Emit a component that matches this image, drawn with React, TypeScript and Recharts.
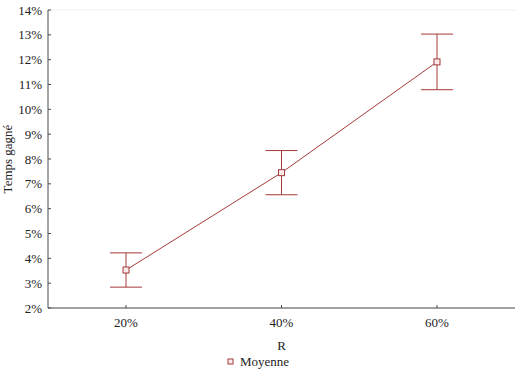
import React from 'react';
import {
  LineChart,
  Line,
  XAxis,
  YAxis,
  CartesianGrid,
  ErrorBar,
  Legend
} from 'recharts';

// R levels on the x axis
const categories = ['20%', '40%', '60%'];
// mean time gained, in percent
const means = [3.53, 7.45, 11.91];
// half-width of the error bars, in percent
const errors = [0.69, 0.89, 1.12];
const yTicks = [2, 3, 4, 5, 6, 7, 8, 9, 10, 11, 12, 13, 14];

const RED = '#a33a3a';
const AXIS = '#4a4a4a';
const FONT = '"Liberation Serif", "Times New Roman", serif';

const data = categories.map((r, i) => ({ r, mean: means[i], err: errors[i] }));

const SquareDot = (props: any) => {
  const { cx, cy } = props;
  if (cx == null || cy == null) return null;
  return <rect x={cx - 3} y={cy - 3} width={6} height={6} fill="#fbeaea" stroke={RED} strokeWidth={1} />;
};

const NoLabel = () => <g />;

// serif tick labels, drawn at the position the axis hands over
const XTick = (props: any) => {
  const { x, y, payload } = props;
  return (
    <text x={x} y={y + 22} textAnchor="middle" fontFamily={FONT} fontSize={13} fill="#222">
      {payload.value}
    </text>
  );
};

const YTick = (props: any) => {
  const { x, y, payload } = props;
  return (
    <text x={x} y={y + 4.5} textAnchor="end" fontFamily={FONT} fontSize={13} fill="#222">
      {`${payload.value}%`}
    </text>
  );
};

const LegendContent = () => (
  <div style={{ height: 14, display: 'flex', justifyContent: 'center', alignItems: 'center', fontFamily: FONT, fontSize: 13, color: '#222' }}>
    <svg width={10} height={10} style={{ marginRight: 4 }}>
      <rect x={2} y={2} width={5} height={5} fill="#fbeaea" stroke={RED} />
    </svg>
    <span>Moyenne</span>
  </div>
);

export default function App() {
  return (
    <div style={{ position: 'absolute', left: 0, top: 0, width: 519, height: 369, background: '#fff', fontFamily: FONT }}>
      <LineChart
        width={519}
        height={369}
        data={data}
        margin={{ top: 10, right: 4, left: 0, bottom: 0 }}
        style={{ fontFamily: FONT }}
      >
        <CartesianGrid vertical={false} stroke="#efefef" />
        <XAxis
          dataKey="r"
          xAxisId="bottom"
          padding={{ left: 78, right: 78 }}
          height={47}
          stroke={AXIS}
          tickSize={-3}
          tickMargin={0}
          tick={<XTick />}
          label={{
            content: ({ viewBox }: any) => (
              <text x={viewBox.x + viewBox.width / 2} y={350} textAnchor="middle" fontFamily={FONT} fontSize={13} fill="#222">R</text>
            )
          }}
        />
        <XAxis
          dataKey="r"
          xAxisId="top"
          orientation="top"
          mirror
          padding={{ left: 78, right: 78 }}
          height={0}
          stroke={AXIS}
          tickSize={3}
          tick={NoLabel}
        />
        <YAxis
          yAxisId="left"
          domain={[2, 14]}
          ticks={yTicks}
          width={48}
          stroke={AXIS}
          tickSize={-3}
          tickMargin={9}
          tick={<YTick />}
          label={{
            content: ({ viewBox }: any) => {
              const cy = viewBox.y + viewBox.height / 2;
              return (
                <text x={12} y={cy} transform={`rotate(-90 12 ${cy})`} textAnchor="middle" fontFamily={FONT} fontSize={13} fill="#222">Temps gagné</text>
              );
            }
          }}
        />
        <YAxis
          yAxisId="right"
          orientation="right"
          mirror
          domain={[2, 14]}
          ticks={yTicks}
          width={0}
          stroke={AXIS}
          tickSize={3}
          tick={NoLabel}
        />
        <Legend verticalAlign="bottom" content={LegendContent} />
        <Line
          xAxisId="bottom"
          yAxisId="left"
          type="linear"
          dataKey="mean"
          name="Moyenne"
          stroke={RED}
          strokeWidth={1}
          dot={<SquareDot />}
          activeDot={false}
          isAnimationActive={false}
        >
          <ErrorBar dataKey="err" width={16} stroke={RED} strokeWidth={1} direction="y" />
        </Line>
      </LineChart>
    </div>
  );
}
